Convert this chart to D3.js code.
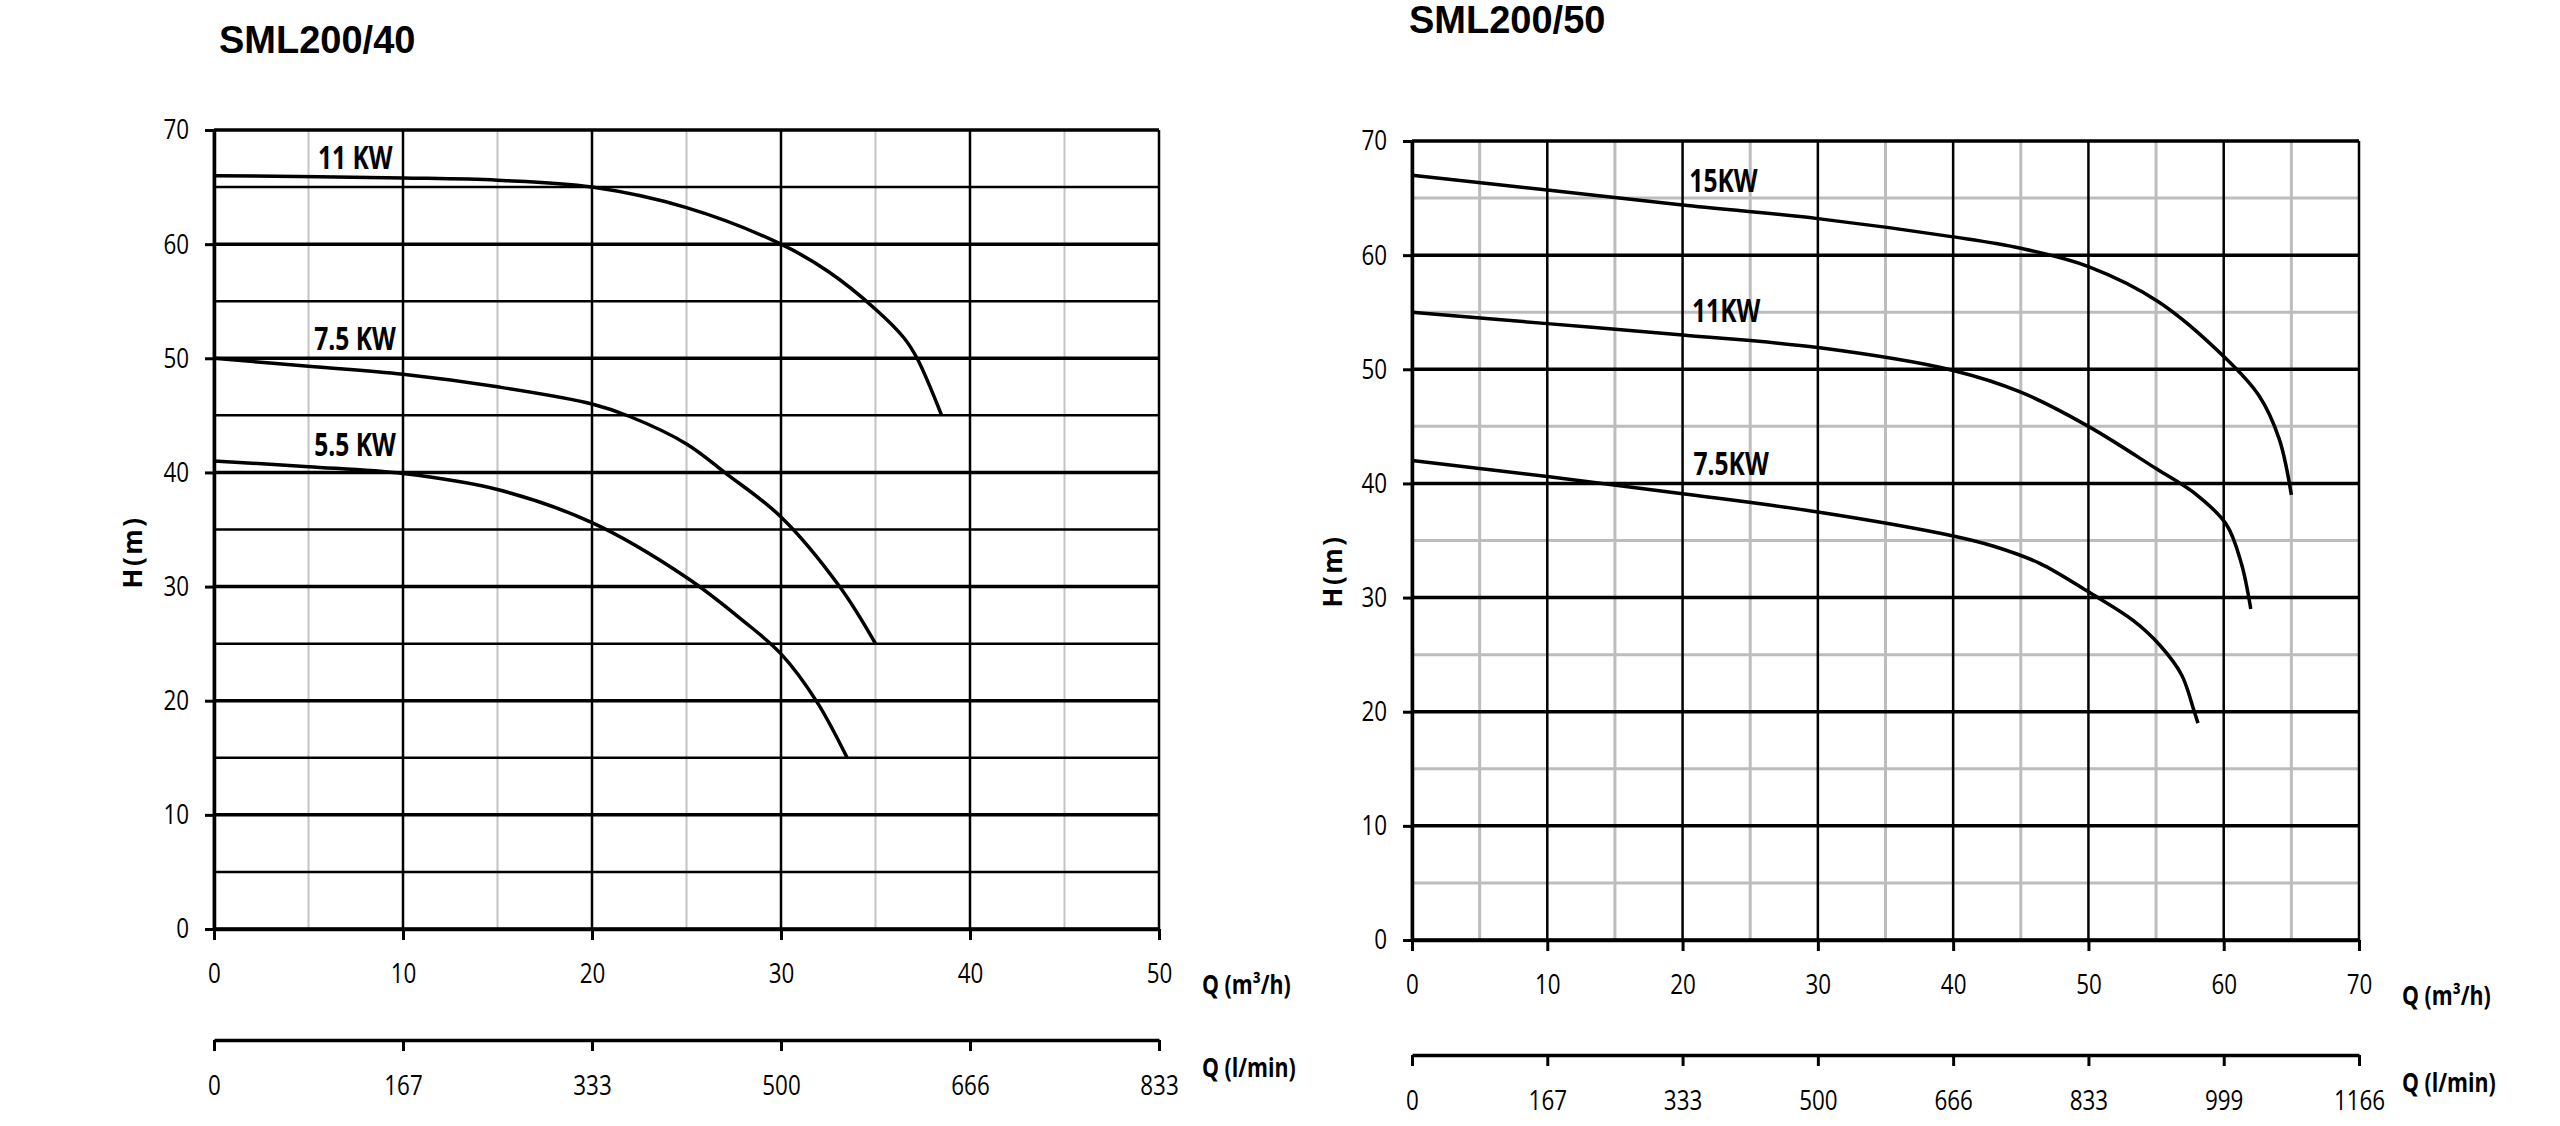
<!DOCTYPE html>
<html>
<head>
<meta charset="utf-8">
<script src="https://cdn.jsdelivr.net/npm/d3@7"></script>
<style>
  body { margin: 0; background: #fff; }
  svg { display: block; }
</style>
</head>
<body>
<svg id="chart" width="2560" height="1126"></svg>
<script>
'use strict';

// head axis, shared by both charts (m)
const headTicks = [0, 10, 20, 30, 40, 50, 60, 70];
const headMinor = [5, 15, 25, 35, 45, 55, 65];

// SML200/40
const titleA = "SML200/40";
const flowTicksA = [0, 10, 20, 30, 40, 50];
const flowMinorA = [5, 15, 25, 35, 45];
const lpmTicksA = ["0", "167", "333", "500", "666", "833"];
const namesA = ["11 KW", "7.5 KW", "5.5 KW"];
const curveA11 = [[0, 66], [10, 65.8], [15, 65.6], [20, 65], [25, 63.2], [30, 60], [32.5, 57.6], [35, 54.3], [36.5, 51.8], [37.2, 50], [38.5, 45]];
const curveA75 = [[0, 50], [5, 49.3], [10, 48.6], [15, 47.5], [20, 46], [22, 44.9], [25, 42.5], [27.1, 39.9], [30, 36.1], [33.1, 30], [35, 25]];
const curveA55 = [[0, 41], [5, 40.5], [10, 39.9], [15, 38.5], [20, 35.6], [25, 30.8], [28, 27], [30, 24.1], [31.9, 19.9], [33.5, 15]];
const labelAtA = [[5.5, 66.6], [5.3, 50.7], [5.3, 41.4]];

// SML200/50
const titleB = "SML200/50";
const flowTicksB = [0, 10, 20, 30, 40, 50, 60, 70];
const flowMinorB = [5, 15, 25, 35, 45, 55, 65];
const lpmTicksB = ["0", "167", "333", "500", "666", "833", "999", "1166"];
const namesB = ["15KW", "11KW", "7.5KW"];
const curveB15 = [[0, 67], [10, 65.7], [20, 64.4], [30, 63.2], [40, 61.6], [45, 60.6], [50, 59], [55.2, 55.9], [60.2, 50.9], [62.6, 47.7], [64.1, 43.9], [65, 39]];
const curveB11 = [[0, 55], [10, 54], [20, 53], [30, 51.9], [40, 49.9], [45, 48], [50, 45], [55, 41.3], [58, 39], [60.2, 36.4], [61.3, 33], [62, 29]];
const curveB75 = [[0, 42], [10, 40.6], [20, 39.1], [30, 37.5], [40, 35.4], [43, 34.5], [46.4, 33], [50, 30.5], [53.3, 28], [55.3, 25.8], [56.9, 23.2], [57.8, 20.1], [58.1, 19]];
const labelAtB = [[20.5, 65.5], [20.7, 54.1], [20.8, 40.7]];

const sans = "'Open Sans', sans-serif";

let svg = d3.select("#chart");

// narrow the text horizontally, keeping its anchor where it was
function squeeze(sel, sx) {
  sel.each(function() {
    let t = d3.select(this);
    let x = +t.attr("x") || 0;
    t.attr("x", x / sx).attr("transform", `scale(${sx},1)`);
  });
}

function drawChart(o) {
  let x = d3.scaleLinear()
    .domain([0, d3.max(o.flowTicks)])
    .range([o.left, o.right]);
  let y = d3.scaleLinear()
    .domain([0, d3.max(headTicks)])
    .range([o.bottom, o.top]);
  let q2 = d3.scalePoint()
    .domain(o.lpmTicks)
    .range([o.left, o.right]);

  let g = svg.append("g");

  g.append("text")
    .attr("x", o.titleX)
    .attr("y", o.titleY)
    .attr("font-family", "'Liberation Sans', Arial, sans-serif")
    .attr("font-weight", "bold")
    .attr("font-size", 38)
    .text(o.title);

  // minor grid
  g.append("g")
    .selectAll("line")
    .data(o.flowMinor)
    .join("line")
      .attr("x1", d => x(d)).attr("x2", d => x(d))
      .attr("y1", y(0)).attr("y2", y(70))
      .attr("stroke", o.minorV)
      .attr("stroke-width", o.minorVW);

  g.append("g")
    .selectAll("line")
    .data(headMinor)
    .join("line")
      .attr("x1", x(0)).attr("x2", o.right)
      .attr("y1", d => y(d)).attr("y2", d => y(d))
      .attr("stroke", o.minorH)
      .attr("stroke-width", o.minorHW);

  // major grid
  g.append("g")
    .selectAll("line")
    .data(o.flowTicks)
    .join("line")
      .attr("x1", d => x(d)).attr("x2", d => x(d))
      .attr("y1", y(0)).attr("y2", y(70))
      .attr("stroke", "#000")
      .attr("stroke-width", 2.5);

  g.append("g")
    .selectAll("line")
    .data(headTicks)
    .join("line")
      .attr("x1", x(0)).attr("x2", o.right)
      .attr("y1", d => y(d)).attr("y2", d => y(d))
      .attr("stroke", "#000")
      .attr("stroke-width", 3.5);

  // axes
  let yAxis = g.append("g")
    .attr("transform", `translate(${o.left},0)`)
    .call(d3.axisLeft(y).tickValues(headTicks).tickSize(9).tickSizeOuter(0).tickPadding(16));

  let xAxis = g.append("g")
    .attr("transform", `translate(0,${o.bottom})`)
    .call(d3.axisBottom(x).tickValues(o.flowTicks).tickSize(11).tickSizeOuter(0).tickPadding(23));

  let lAxis = g.append("g")
    .attr("transform", `translate(0,${o.axis2})`)
    .call(d3.axisBottom(q2).tickSize(11).tickSizeOuter(0).tickPadding(24));

  [yAxis, xAxis, lAxis].forEach(a => {
    a.select(".domain").attr("stroke", "#000").attr("stroke-width", 3.5);
    a.selectAll(".tick line").attr("stroke", "#000").attr("stroke-width", 3);
    a.selectAll(".tick text")
      .attr("fill", "#000")
      .attr("font-family", sans)
      .attr("font-size", 28)
      .call(squeeze, 0.8);
  });

  g.append("text")
    .attr("transform", `translate(${o.hLabel[0]},${o.hLabel[1]}) rotate(-90)`)
    .attr("text-anchor", "middle")
    .attr("dominant-baseline", "central")
    .attr("font-family", sans)
    .attr("font-weight", "bold")
    .attr("font-size", 26)
    .attr("letter-spacing", 2.5)
    .text("H(m)");

  g.append("text")
    .attr("x", o.right + 43)
    .attr("y", o.bottom + 65)
    .attr("font-family", sans)
    .attr("font-weight", "bold")
    .attr("font-size", 26)
    .text("Q (m³/h)")
    .call(squeeze, 0.82);

  g.append("text")
    .attr("x", o.right + 43)
    .attr("y", o.axis2 + 37)
    .attr("font-family", sans)
    .attr("font-weight", "bold")
    .attr("font-size", 26)
    .text("Q (l/min)")
    .call(squeeze, 0.82);

  // pump curves
  let line = d3.line()
    .x(d => x(d[0]))
    .y(d => y(d[1]))
    .curve(d3.curveCatmullRom.alpha(0.5));

  g.append("g")
    .selectAll("path")
    .data(o.curves)
    .join("path")
      .attr("d", line)
      .attr("fill", "none")
      .attr("stroke", "#000")
      .attr("stroke-width", 3.5);

  g.append("g")
    .selectAll("text")
    .data(o.names)
    .join("text")
      .attr("x", (d, i) => x(o.labelAt[i][0]))
      .attr("y", (d, i) => y(o.labelAt[i][1]))
      .attr("font-family", sans)
      .attr("font-weight", "bold")
      .attr("font-size", 32)
      .text(d => d)
      .call(squeeze, 0.77);
}

drawChart({
  title: titleA, titleX: 219, titleY: 53,
  left: 214, right: 1159, top: 130, bottom: 929, axis2: 1040,
  hLabel: [132, 552],
  flowTicks: flowTicksA, flowMinor: flowMinorA, lpmTicks: lpmTicksA,
  minorV: "#c4c4c4", minorVW: 2,
  minorH: "#000", minorHW: 2.5,
  curves: [curveA11, curveA75, curveA55],
  names: namesA, labelAt: labelAtA
});

drawChart({
  title: titleB, titleX: 1409, titleY: 33,
  left: 1412, right: 2359, top: 141, bottom: 940, axis2: 1055,
  hLabel: [1332, 571],
  flowTicks: flowTicksB, flowMinor: flowMinorB, lpmTicks: lpmTicksB,
  minorV: "#bdbdbd", minorVW: 3,
  minorH: "#bdbdbd", minorHW: 3,
  curves: [curveB15, curveB11, curveB75],
  names: namesB, labelAt: labelAtB
});
</script>
</body>
</html>
